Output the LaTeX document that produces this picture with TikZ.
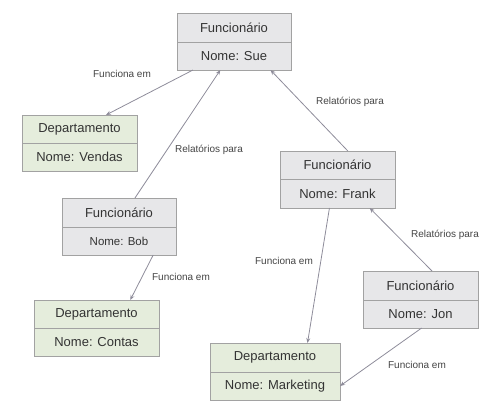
\documentclass[tikz,border=0pt]{standalone}
\usepackage{fontspec}
\setmainfont{Liberation Sans}
\usetikzlibrary{arrows.meta,calc}
\definecolor{boxline}{HTML}{A2A2A2}
\definecolor{empfill}{HTML}{E7E7E9}
\definecolor{depfill}{HTML}{E5EDDC}
\definecolor{txt}{HTML}{333333}
\definecolor{lbl}{HTML}{444444}
\definecolor{conn}{HTML}{8E8C9A}
\tikzset{
  cell/.style={draw=boxline, line width=0.9pt, text=txt, inner sep=0pt, outer sep=0pt, font=\fontsize{13}{15}\selectfont},
  emp/.style={cell, fill=empfill},
  dep/.style={cell, fill=depfill},
  lab/.style={text=lbl, inner sep=1pt, font=\fontsize{10}{12}\selectfont},
  conn/.style={draw=conn, line width=0.8pt, -{Stealth[length=5pt,width=4pt]}},
}
\begin{document}
\begin{tikzpicture}[x=1pt,y=-1pt]
\useasboundingbox (0,0) rectangle (504,408);
% box macro-free: title cell and name cell for each box
% Sue: x 177-291, y 13-42-70
\node[emp, minimum width=114pt, minimum height=29pt] (sueT) at (234,27.5) {Funcionário};
\node[emp, minimum width=114pt, minimum height=28pt] (sueN) at (234,56) {Nome: Sue};
% Vendas: x 22-137, y 115-143-171
\node[dep, minimum width=115pt, minimum height=28pt] (venT) at (79.5,129) {Departamento};
\node[dep, minimum width=115pt, minimum height=28pt] (venN) at (79.5,157) {Nome: Vendas};
% Bob: x 62-176, y 198-227-255
\node[emp, minimum width=114pt, minimum height=29pt] (bobT) at (119,212.5) {Funcionário};
\node[emp, minimum width=114pt, minimum height=28pt, font=\fontsize{11.5}{14}\selectfont] (bobN) at (119,241) {Nome: Bob};
% Contas: x 34-159, y 300-328-356
\node[dep, minimum width=125pt, minimum height=28pt] (conT) at (96.5,314) {Departamento};
\node[dep, minimum width=125pt, minimum height=28pt] (conN) at (96.5,342) {Nome: Contas};
% Frank: x 280-395, y 151-179-208
\node[emp, minimum width=115pt, minimum height=28pt] (frkT) at (337.5,165) {Funcionário};
\node[emp, minimum width=115pt, minimum height=29pt] (frkN) at (337.5,193.5) {Nome: Frank};
% Jon: x 363-478, y 271-300-328
\node[emp, minimum width=115pt, minimum height=29pt] (jonT) at (420.5,285.5) {Funcionário};
\node[emp, minimum width=115pt, minimum height=28pt] (jonN) at (420.5,314) {Nome: Jon};
% Marketing: x 210-340, y 343-372-400
\node[dep, minimum width=130pt, minimum height=29pt] (mktT) at (275,357.5) {Departamento};
\node[dep, minimum width=130pt, minimum height=28pt] (mktN) at (275,386) {Nome: Marketing};
% labels
\node[lab] (l1) at (122,74) {Funciona em};
\node[lab] (l2) at (209,150) {Relatórios para};
\node[lab] (l3) at (350,102) {Relatórios para};
\node[lab] (l4) at (181,277) {Funciona em};
\node[lab] (l5) at (284,261) {Funciona em};
\node[lab] (l6) at (445,235) {Relatórios para};
\node[lab] (l7) at (417,365) {Funciona em};
% connectors
\draw[conn] ($(sueN.south west)!0.14!(sueN.south east)$) -- ($(venT.north west)!0.73!(venT.north east)$);
\draw[conn] ($(bobT.north west)!0.64!(bobT.north east)$) -- ($(sueN.south west)!0.38!(sueN.south east)$);
\draw[conn] ($(frkT.north west)!0.59!(frkT.north east)$) -- ($(sueN.south west)!0.82!(sueN.south east)$);
\draw[conn] ($(bobN.south west)!0.80!(bobN.south east)$) -- ($(conT.north west)!0.77!(conT.north east)$);
\draw[conn] ($(frkN.south west)!0.43!(frkN.south east)$) -- ($(mktT.north west)!0.75!(mktT.north east)$);
\draw[conn] ($(jonT.north west)!0.60!(jonT.north east)$) -- ($(frkN.south west)!0.78!(frkN.south east)$);
\draw[conn] ($(jonN.south west)!0.51!(jonN.south east)$) -- (mktN.east);
\end{tikzpicture}
\end{document}
